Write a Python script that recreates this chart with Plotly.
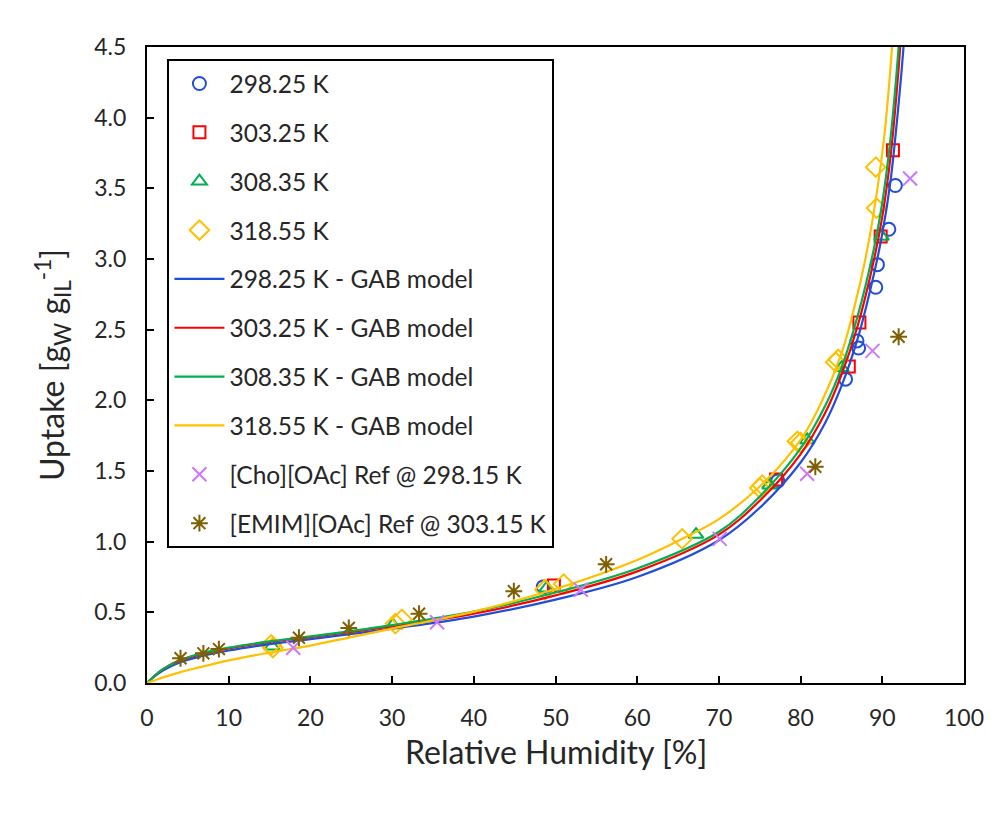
import plotly.graph_objects as go

# ---- measured data ----
rh_298 = [48.5, 77.2, 85.5, 86.9, 87.1, 89.2, 89.4, 90.8, 91.6]
up_298 = [0.68, 1.43, 2.15, 2.42, 2.37, 2.80, 2.96, 3.21, 3.52]

rh_303 = [49.8, 77.0, 85.9, 87.2, 89.8, 91.3]
up_303 = [0.69, 1.44, 2.24, 2.55, 3.16, 3.77]

rh_308 = [15.3, 30.1, 48.9, 67.2, 76.2, 80.8, 85.0, 89.9]
up_308 = [0.26, 0.41, 0.67, 1.05, 1.40, 1.72, 2.23, 3.16]

rh_318 = [15.4, 15.2, 30.4, 31.2, 48.7, 51.0, 65.5, 75.0, 75.3, 79.6, 80.0, 84.3, 84.6, 89.3, 89.2]
up_318 = [0.25, 0.27, 0.42, 0.45, 0.66, 0.70, 1.02, 1.38, 1.40, 1.71, 1.70, 2.27, 2.29, 3.36, 3.65]

# ---- GAB model curves ----
gab_x_298 = [0, 1, 2, 4, 6, 10, 15, 20, 30, 40, 50, 60, 70, 75, 80, 83, 85, 87, 89, 90, 91, 92, 92.6, 93.0]
gab_y_298 = [0, 0.05, 0.09, 0.145, 0.18, 0.23, 0.275, 0.31, 0.385, 0.47, 0.59, 0.75, 1.01, 1.24, 1.56, 1.84, 2.10, 2.44, 2.90, 3.18, 3.55, 4.10, 4.5, 4.85]

gab_x_303 = [0, 1, 2, 4, 6, 10, 15, 20, 30, 40, 50, 60, 70, 75, 80, 83, 85, 87, 89, 90, 91, 92, 92.3, 92.6]
gab_y_303 = [0, 0.055, 0.10, 0.16, 0.195, 0.245, 0.29, 0.325, 0.40, 0.49, 0.62, 0.79, 1.05, 1.29, 1.62, 1.91, 2.18, 2.53, 3.00, 3.30, 3.72, 4.35, 4.6, 4.85]

gab_x_308 = [0, 1, 2, 4, 6, 10, 15, 20, 30, 40, 50, 60, 70, 75, 80, 83, 85, 87, 89, 90, 91, 92, 92.4]
gab_y_308 = [0, 0.055, 0.10, 0.16, 0.20, 0.25, 0.295, 0.33, 0.41, 0.505, 0.64, 0.81, 1.07, 1.32, 1.66, 1.96, 2.23, 2.60, 3.08, 3.40, 3.85, 4.50, 4.85]

gab_x_318 = [0, 1, 2, 4, 6, 10, 15, 20, 25, 30, 40, 50, 60, 65.5, 70, 75, 80, 82.5, 85, 86.5, 88, 89.2, 90.3, 91.2, 91.6]
gab_y_318 = [0, 0.02, 0.04, 0.075, 0.105, 0.16, 0.215, 0.265, 0.325, 0.385, 0.505, 0.665, 0.87, 1.02, 1.16, 1.39, 1.72, 1.98, 2.33, 2.64, 3.02, 3.42, 3.90, 4.5, 4.85]

# ---- literature references ----
rh_cho = [17.9, 35.5, 53.1, 70.1, 80.8, 88.8, 93.4]
up_cho = [0.25, 0.43, 0.66, 1.02, 1.48, 2.35, 3.57]

rh_emim = [4.1, 6.9, 8.8, 18.6, 24.7, 33.3, 44.9, 56.2, 81.8, 92.0]
up_emim = [0.175, 0.21, 0.24, 0.32, 0.39, 0.49, 0.65, 0.84, 1.53, 2.45]

x_ticks = [0, 10, 20, 30, 40, 50, 60, 70, 80, 90, 100]
y_ticks = [0.0, 0.5, 1.0, 1.5, 2.0, 2.5, 3.0, 3.5, 4.0, 4.5]

BLUE = "#1F4ED8"
RED = "#FF0000"
GREEN = "#00B050"
YELLOW = "#FFC000"
PURPLE = "#CC77FF"
OLIVE = "#7F6000"

fig = go.Figure()

def mk(x, y, name, symbol, color, size=13):
    fig.add_trace(go.Scatter(
        x=x, y=y, mode="markers", name=name, legendgroup=name,
        marker=dict(symbol=symbol, size=size, color=color,
                    line=dict(color=color, width=2)),
    ))

def ln(x, y, name, color):
    fig.add_trace(go.Scatter(
        x=x, y=y, mode="lines", name=name, legendgroup=name,
        line=dict(color=color, width=2.2, shape="spline", smoothing=1.0),
    ))

mk(rh_298, up_298, "298.25 K", "circle-open", BLUE, 13)
mk(rh_303, up_303, "303.25 K", "square-open", RED, 12)
mk(rh_308, up_308, "308.35 K", "triangle-up-open", GREEN, 13)
mk(rh_318, up_318, "318.55 K", "diamond-open", YELLOW, 15)
ln(gab_x_298, gab_y_298, "298.25 K - GAB model", BLUE)
ln(gab_x_303, gab_y_303, "303.25 K - GAB model", RED)
ln(gab_x_308, gab_y_308, "308.35 K - GAB model", GREEN)
ln(gab_x_318, gab_y_318, "318.55 K - GAB model", YELLOW)
mk(rh_cho, up_cho, "[Cho][OAc] Ref @ 298.15 K", "x-thin-open", PURPLE, 14)
mk(rh_emim, up_emim, "[EMIM][OAc] Ref @ 303.15 K", "asterisk-open", OLIVE, 14)

FONT = "Lato, 'Open Sans', sans-serif"

fig.update_layout(
    width=996, height=813,
    margin=dict(l=147, r=27, t=47, b=130),
    paper_bgcolor="white", plot_bgcolor="white",
    font=dict(family=FONT, color="#262626", size=23),
    showlegend=True,
    legend=dict(
        x=0.025, y=0.981, xanchor="left", yanchor="top",
        bgcolor="white", bordercolor="black", borderwidth=2,
        font=dict(size=24.5, family=FONT, color="#262626"),
        tracegroupgap=14, itemwidth=50,
    ),
    xaxis=dict(
        range=[0, 100], tickvals=x_ticks, ticktext=[str(v) for v in x_ticks],
        showline=True, linecolor="black", linewidth=2, mirror=True,
        ticks="inside", ticklen=7, tickwidth=2, tickcolor="black",
        showgrid=False, zeroline=False,
        tickfont=dict(size=23), ticklabelstandoff=13,
    ),
    yaxis=dict(
        range=[0, 4.5], tickvals=y_ticks, ticktext=[f"{v:.1f}" for v in y_ticks],
        showline=True, linecolor="black", linewidth=2, mirror=True,
        ticks="inside", ticklen=7, tickwidth=2, tickcolor="black",
        showgrid=False, zeroline=False,
        tickfont=dict(size=23), ticklabelstandoff=14,
        title=dict(text="Uptake [g<sub>W</sub> g<sub>IL</sub><sup>-1</sup>]",
                   font=dict(size=32), standoff=20),
    ),
    annotations=[dict(
        text="Relative Humidity [%]", xref="paper", yref="paper",
        x=0.5, y=-0.107, xanchor="center", yanchor="middle",
        showarrow=False, font=dict(size=32, family=FONT, color="#262626"),
    )],
)

fig.write_html("out.html")
